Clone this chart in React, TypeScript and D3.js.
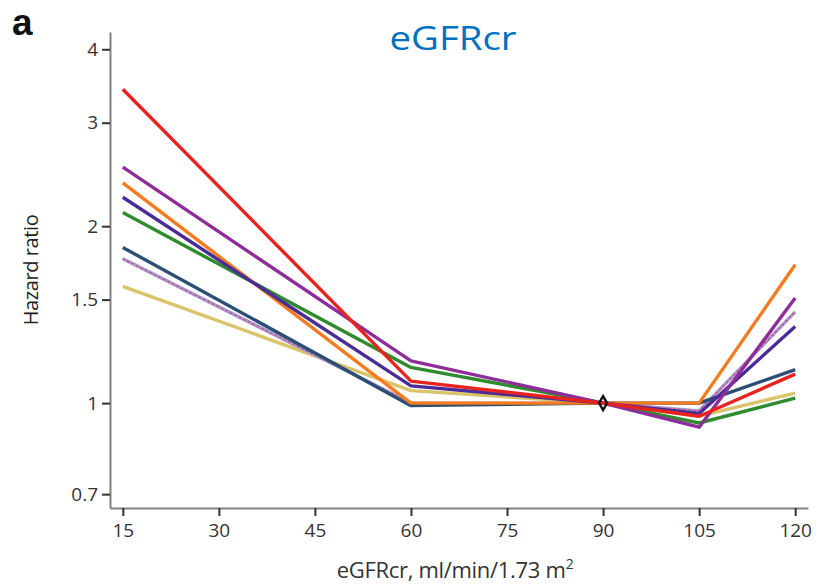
import React, { useEffect, useRef } from "react";
import * as d3 from "d3";

// eGFR points where hazard ratios are reported
const xValues = [15, 60, 90, 105, 120];
const xTicks = [15, 30, 45, 60, 75, 90, 105, 120];
const yTicks = [0.7, 1, 1.5, 2, 3, 4];

// series values (hazard ratio)
const yellow = [1.58, 1.05, 1, 0.95, 1.04];
const lavender = [1.76, 1.0, 1, 0.97, 1.43];
const navy = [1.84, 0.99, 1, 1.0, 1.14];
const green = [2.11, 1.15, 1, 0.925, 1.02];
const orange = [2.37, 1.0, 1, 1.0, 1.72];
const indigo = [2.24, 1.07, 1, 0.96, 1.35];
const purple = [2.52, 1.18, 1, 0.91, 1.51];
const red = [3.42, 1.09, 1, 0.95, 1.12];

const seriesList = [
  { name: "yellow", values: yellow, color: "#d9c46a" },
  { name: "lavender", values: lavender, color: "#a596d4", dots: "#e0404a" },
  { name: "navy", values: navy, color: "#2b4f74" },
  { name: "green", values: green, color: "#2e8b2e" },
  { name: "orange", values: orange, color: "#f47b20" },
  { name: "indigo", values: indigo, color: "#4a2c96" },
  { name: "purple", values: purple, color: "#8e2c9a" },
  { name: "red", values: red, color: "#e8231e" },
];

export default function App() {
  const ref = useRef<SVGSVGElement>(null);

  useEffect(() => {
    document.body.style.margin = "0";
    const svg = d3.select(ref.current);
    svg.selectAll("*").remove();

    const left = 110, right = 808, top = 32, bottom = 508;

    const x = d3.scaleLinear().domain([13, 122]).range([left, right]);
    const y = d3.scaleLog().domain([0.663, 4.28]).range([bottom, top]);

    const font = "'Open Sans', 'DejaVu Sans', sans-serif";

    // axes
    const yAxis = svg.append("g")
      .attr("transform", `translate(${left},0)`)
      .call(d3.axisLeft(y).tickValues(yTicks).tickFormat(d3.format("")).tickSize(8).tickSizeOuter(0));
    yAxis.select(".domain").attr("stroke", "#808080").attr("stroke-width", 2);
    yAxis.selectAll(".tick line").attr("stroke", "#333").attr("stroke-width", 2);
    yAxis.selectAll(".tick text")
      .attr("font-family", font).attr("font-size", 19).attr("fill", "#333").attr("x", -12);

    const xAxis = svg.append("g")
      .attr("transform", `translate(0,${bottom})`)
      .call(d3.axisBottom(x).tickValues(xTicks).tickFormat(d3.format("d")).tickSize(8).tickSizeOuter(0));
    xAxis.select(".domain").attr("stroke", "#808080").attr("stroke-width", 2);
    xAxis.selectAll(".tick line").attr("stroke", "#333").attr("stroke-width", 2);
    xAxis.selectAll(".tick text")
      .attr("font-family", font).attr("font-size", 19).attr("fill", "#333").attr("y", 16);

    // lines
    const line = d3.line<number>()
      .x((_, i) => x(xValues[i]))
      .y((d) => y(d));

    const g = svg.append("g");
    seriesList.forEach((s) => {
      g.append("path")
        .attr("d", line(s.values))
        .attr("fill", "none")
        .attr("stroke", s.color)
        .attr("stroke-width", 3.4)
        .attr("stroke-linejoin", "round");
      if (s.dots) {
        g.append("path")
          .attr("d", line(s.values))
          .attr("fill", "none")
          .attr("stroke", s.dots)
          .attr("stroke-width", 1.2)
          .attr("stroke-dasharray", "2,3");
      }
    });

    // reference marker at 90
    const cx = x(90), cy = y(1);
    svg.append("path")
      .attr("d", `M${cx},${cy - 7} L${cx + 4},${cy} L${cx},${cy + 7} L${cx - 4},${cy} Z`)
      .attr("fill", "none")
      .attr("stroke", "#111")
      .attr("stroke-width", 2.4);

    // labels
    svg.append("text")
      .attr("x", 12).attr("y", 35)
      .attr("font-family", "'Liberation Sans', Arial, sans-serif")
      .attr("font-weight", "bold").attr("font-size", 37).attr("fill", "#111")
      .text("a");

    svg.append("text")
      .attr("transform", "translate(453,50) scale(1.2,1)")
      .attr("text-anchor", "middle")
      .attr("font-family", font).attr("font-size", 32).attr("fill", "#0070c0")
      .text("eGFRcr");

    svg.append("text")
      .attr("transform", "translate(38,270) rotate(-90)")
      .attr("text-anchor", "middle")
      .attr("font-family", font).attr("font-size", 20).attr("fill", "#222")
      .attr("letter-spacing", -0.4)
      .text("Hazard ratio");

    const xl = svg.append("text")
      .attr("x", 455).attr("y", 578)
      .attr("text-anchor", "middle")
      .attr("font-family", font).attr("font-size", 22).attr("fill", "#333")
      .attr("letter-spacing", -0.3);
    xl.append("tspan").text("eGFRcr, ml/min/1.73 m");
    xl.append("tspan").attr("font-size", 14).attr("dy", -9).text("2");
  }, []);

  return <svg ref={ref} width={818} height={586} style={{ display: "block" }} />;
}
